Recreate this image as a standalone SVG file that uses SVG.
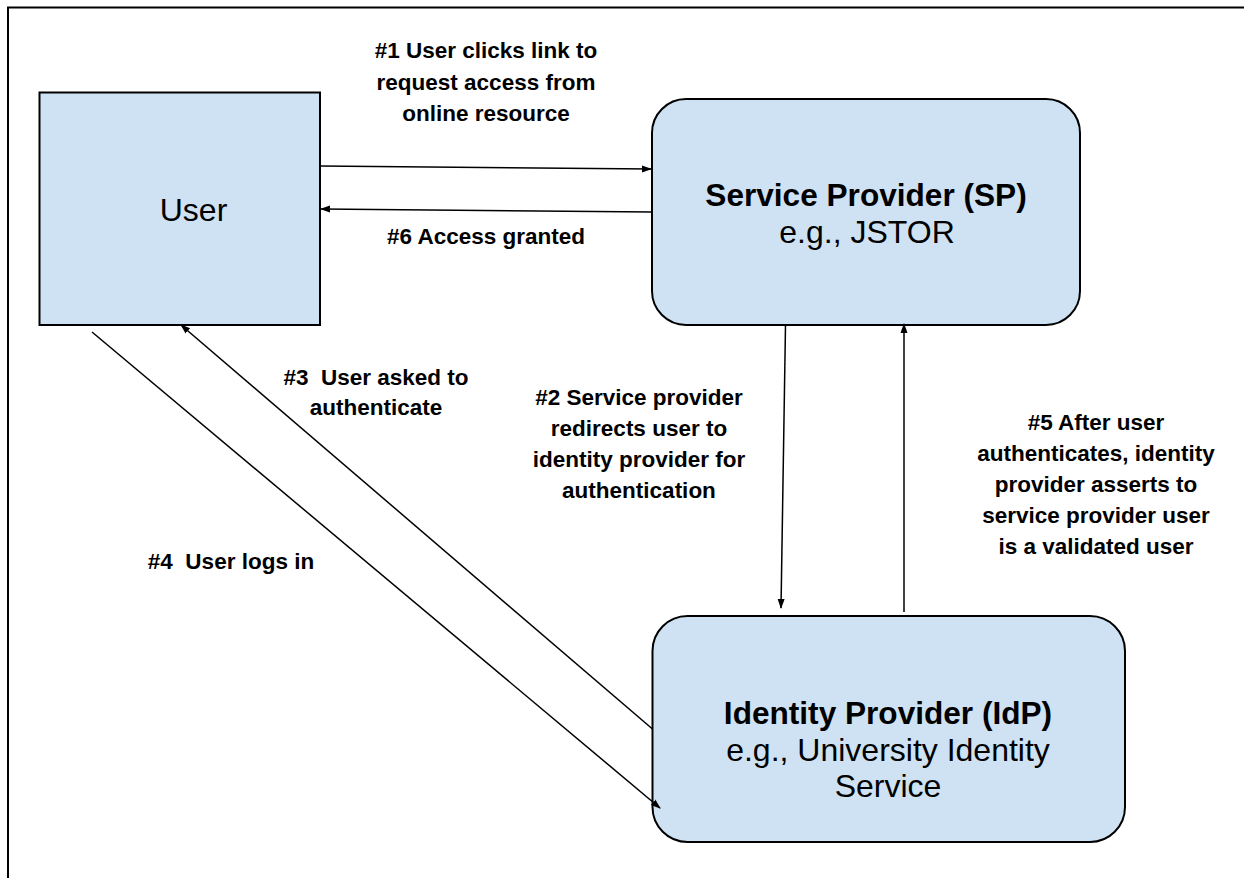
<svg xmlns="http://www.w3.org/2000/svg" width="1244" height="878" viewBox="0 0 1244 878">
<style>
.node{fill:#cfe2f3;stroke:#000;stroke-width:2}
.lbl{font-family:"Liberation Sans",Arial,sans-serif;font-size:22.5px;font-weight:bold;fill:#000;text-anchor:middle}
.big{font-family:"Liberation Sans",Arial,sans-serif;font-size:32px;fill:#000;text-anchor:middle}
.b{font-weight:bold;font-size:31.6px}
.conn{stroke:#000;stroke-width:1.5;fill:none;marker-end:url(#ah)}
</style>
<defs>
<marker id="ah" viewBox="0 0 10 10" refX="9" refY="5" markerWidth="10" markerHeight="10" markerUnits="userSpaceOnUse" orient="auto">
<path d="M0,1.5 L10,5 L0,8.5 z" fill="#000"/>
</marker>
</defs>
<rect width="1244" height="878" fill="#fff"/>
<path d="M8,878 V7.5 H1244" fill="none" stroke="#000" stroke-width="2"/>
<g id="user">
<rect class="node" x="39.5" y="92.5" width="280.5" height="232.5"/>
<text class="big" x="193.5" y="221">User</text>
</g>
<g id="sp">
<rect class="node" x="652" y="99" width="428" height="226" rx="34" ry="34"/>
<text class="big" x="866" y="206"><tspan class="b">Service Provider (SP)</tspan><tspan x="867" dy="37">e.g., JSTOR</tspan></text>
</g>
<g id="idp">
<rect class="node" x="652.5" y="616" width="472.5" height="226" rx="35" ry="35"/>
<text class="big" x="888" y="724"><tspan class="b">Identity Provider (IdP)</tspan><tspan x="888" dy="36.5">e.g., University Identity</tspan><tspan x="888" dy="36.5">Service</tspan></text>
</g>
<g id="connectors">
<path class="conn" d="M320,166 L651,169"/>
<path class="conn" d="M652,212 L321,209"/>
<path class="conn" d="M785.5,325 L781,608"/>
<path class="conn" d="M904,612 L904,324"/>
<path class="conn" d="M652.5,729 L181,325"/>
<path class="conn" d="M92,332 L660,808"/>
</g>
<g id="labels">
<text class="lbl" x="486" y="58">#1 User clicks link to<tspan x="486" dy="31.5">request access from</tspan><tspan x="486" dy="31.5">online resource</tspan></text>
<text class="lbl" x="486" y="244">#6 Access granted</text>
<text class="lbl" x="376" y="385" xml:space="preserve">#3  User asked to<tspan x="376" dy="30">authenticate</tspan></text>
<text class="lbl" x="639" y="405">#2 Service provider<tspan x="639" dy="31">redirects user to</tspan><tspan x="639" dy="31">identity provider for</tspan><tspan x="639" dy="31">authentication</tspan></text>
<text class="lbl" x="1096" y="430">#5 After user<tspan x="1096" dy="31">authenticates, identity</tspan><tspan x="1096" dy="31">provider asserts to</tspan><tspan x="1096" dy="31">service provider user</tspan><tspan x="1096" dy="31">is a validated user</tspan></text>
<text class="lbl" x="231" y="569" xml:space="preserve">#4  User logs in</text>
</g>
</svg>
